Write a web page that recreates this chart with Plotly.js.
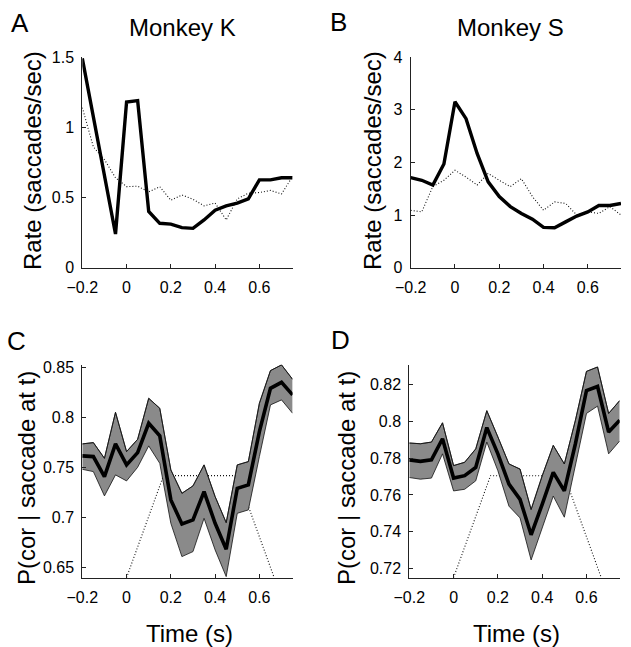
<!DOCTYPE html>
<html>
<head>
<meta charset="utf-8">
<script src="https://cdn.plot.ly/plotly-3.0.1.min.js"></script>
<style>html,body{margin:0;padding:0;background:#fff;}#chart{width:631px;height:647px;}</style>
</head>
<body>
<div id="chart"></div>
<script>
// Time bins (s)
const time = [-0.2, -0.15, -0.1, -0.05, 0, 0.05, 0.1, 0.15, 0.2, 0.25, 0.3, 0.35, 0.4, 0.45, 0.5, 0.55, 0.6, 0.65, 0.7, 0.75];

// Panel A: Monkey K saccade rate
const rateK_solid = [1.49, 1.07, 0.66, 0.24, 1.18, 1.19, 0.40, 0.316, 0.31, 0.285, 0.28, 0.34, 0.41, 0.44, 0.46, 0.49, 0.625, 0.625, 0.64, 0.64];
const rateK_dotted = [1.14, 0.86, 0.77, 0.64, 0.577, 0.58, 0.54, 0.577, 0.48, 0.518, 0.487, 0.44, 0.46, 0.34, 0.49, 0.53, 0.535, 0.55, 0.525, 0.65];

// Panel B: Monkey S saccade rate
const rateS_solid = [1.71, 1.66, 1.57, 1.97, 3.15, 2.83, 2.17, 1.63, 1.35, 1.16, 1.03, 0.92, 0.765, 0.76, 0.87, 0.98, 1.06, 1.18, 1.18, 1.22];
const rateS_dotted = [1.09, 1.06, 1.54, 1.66, 1.85, 1.72, 1.57, 1.79, 1.66, 1.54, 1.69, 1.35, 1.09, 1.25, 1.22, 1.0, 1.06, 1.03, 1.16, 1.0];

// Panel C: Monkey K P(cor | saccade at t)
const pK_mean  = [0.7617, 0.761, 0.741, 0.7737, 0.7527, 0.765, 0.7943, 0.7817, 0.7177, 0.6937, 0.6977, 0.726, 0.6943, 0.6683, 0.7293, 0.7327, 0.786, 0.8293, 0.8353, 0.8227];
const pK_upper = [0.7737, 0.775, 0.7593, 0.8053, 0.766, 0.7783, 0.8193, 0.8093, 0.7477, 0.7243, 0.7317, 0.7527, 0.721, 0.695, 0.7527, 0.756, 0.8143, 0.847, 0.8527, 0.8383];
const pK_lower = [0.7483, 0.746, 0.7217, 0.7427, 0.7367, 0.7503, 0.7717, 0.7543, 0.6943, 0.661, 0.666, 0.6993, 0.6677, 0.641, 0.7043, 0.7077, 0.761, 0.8127, 0.8177, 0.8043];

// Panel D: Monkey S P(cor | saccade at t)
const pS_mean  = [0.7791, 0.7783, 0.7791, 0.7906, 0.7692, 0.7705, 0.775, 0.7967, 0.7824, 0.7659, 0.7576, 0.7383, 0.7549, 0.7723, 0.7622, 0.7879, 0.8169, 0.8191, 0.7943, 0.8007];
const pS_upper = [0.7883, 0.7879, 0.7888, 0.7993, 0.776, 0.7778, 0.7851, 0.8059, 0.7916, 0.7769, 0.7741, 0.7521, 0.7704, 0.787, 0.7769, 0.8007, 0.8273, 0.8297, 0.8044, 0.8114];
const pS_lower = [0.7695, 0.7686, 0.7692, 0.7824, 0.7622, 0.7631, 0.7677, 0.7888, 0.7732, 0.7539, 0.7475, 0.7246, 0.742, 0.7594, 0.7479, 0.776, 0.8044, 0.8084, 0.7824, 0.7894];

// Stimulus window (trapezoid) shown dotted in C and D
const windowT = [0, 0.1667, 0.5, 0.6667];
const windowK = [0.64, 0.742, 0.742, 0.64];
const windowS = [0.715, 0.7705, 0.7705, 0.715];

// Tick values
const xTicks = [-0.2, 0, 0.2, 0.4, 0.6];
const yTicksA = [0, 0.5, 1, 1.5];
const yTicksB = [0, 1, 2, 3, 4];
const yTicksC = [0.65, 0.7, 0.75, 0.8, 0.85];
const yTicksD = [0.72, 0.74, 0.76, 0.78, 0.8, 0.82];

const FONT = 'Liberation Sans, Arial, Helvetica, sans-serif';
const W = 631, H = 647;
const px = v => v / W;
const py = v => 1 - v / H;

const thick = {color: '#000', width: 3.4};
const dotted = {color: '#111', width: 1.1, dash: '1px,2px'};
const edge = {color: '#111', width: 0.8};
const band = 'rgb(138,138,138)';

function bandTraces(xa, ya, up, lo, mean, win, winVals) {
  return [
    {x: win, y: winVals, xaxis: xa, yaxis: ya, mode: 'lines', line: dotted, hoverinfo: 'skip'},
    {x: time, y: up, xaxis: xa, yaxis: ya, mode: 'lines', line: edge, hoverinfo: 'skip'},
    {x: time, y: lo, xaxis: xa, yaxis: ya, mode: 'lines', line: edge, fill: 'tonexty', fillcolor: band, hoverinfo: 'skip'},
    {x: time, y: up, xaxis: xa, yaxis: ya, mode: 'lines', line: edge, hoverinfo: 'skip'},
    {x: time, y: mean, xaxis: xa, yaxis: ya, mode: 'lines', line: {color: '#000', width: 3.6}, hoverinfo: 'skip'}
  ];
}

const traces = [
  {x: time, y: rateK_dotted, xaxis: 'x', yaxis: 'y', mode: 'lines', line: dotted},
  {x: time, y: rateK_solid, xaxis: 'x', yaxis: 'y', mode: 'lines', line: thick},
  {x: time, y: rateS_dotted, xaxis: 'x2', yaxis: 'y2', mode: 'lines', line: dotted},
  {x: time, y: rateS_solid, xaxis: 'x2', yaxis: 'y2', mode: 'lines', line: thick},
  ...bandTraces('x3', 'y3', pK_upper, pK_lower, pK_mean, windowT, windowK),
  ...bandTraces('x4', 'y4', pS_upper, pS_lower, pS_mean, windowT, windowS)
];

function xax(domain, anchor) {
  return {domain: domain, anchor: anchor, range: [-0.2, 0.75], tickvals: xTicks,
    showline: true, linecolor: '#222', linewidth: 1, ticks: 'inside', ticklen: 4, tickcolor: '#222',
    showgrid: false, zeroline: false, tickfont: {family: FONT, size: 16, color: '#000'}, fixedrange: true,
    ticklabelstandoff: 5};
}
function yax(domain, anchor, range, ticks) {
  return {domain: domain, anchor: anchor, range: range, tickvals: ticks,
    showline: true, linecolor: '#222', linewidth: 1, ticks: 'inside', ticklen: 4, tickcolor: '#222',
    showgrid: false, zeroline: false, tickfont: {family: FONT, size: 16, color: '#000'}, fixedrange: true,
    ticklabelstandoff: 4};
}

const domTop = [py(267.7), py(57.0)];
const domBot = [py(577.6), py(364.6)];

function ann(text, x, y, size, angle) {
  return {text: text, x: px(x), y: py(y), xref: 'paper', yref: 'paper', showarrow: false,
    xanchor: 'center', yanchor: 'middle', textangle: angle || 0,
    font: {family: FONT, size: size, color: '#000'}};
}

const layout = {
  width: W, height: H, margin: {l: 0, r: 0, t: 0, b: 0},
  paper_bgcolor: '#fff', plot_bgcolor: '#fff', showlegend: false,
  xaxis: xax([px(82.3), px(292.6)], 'y'),
  yaxis: yax(domTop, 'x', [0, 1.5], yTicksA),
  xaxis2: xax([px(410.7), px(621)], 'y2'),
  yaxis2: yax(domTop, 'x2', [0, 4], yTicksB),
  xaxis3: xax([px(82.3), px(292.6)], 'y3'),
  yaxis3: yax(domBot, 'x3', [0.64, 0.853], yTicksC),
  xaxis4: xax([px(409.3), px(619.7)], 'y4'),
  yaxis4: yax(domBot, 'x4', [0.715, 0.831], yTicksD),
  annotations: [
    ann('A', 20, 23, 26),
    ann('Monkey K', 183, 27, 24),
    ann('B', 338, 22, 26),
    ann('Monkey S', 510, 27, 24),
    ann('C', 16, 341, 26),
    ann('D', 340, 340, 26),
    ann('Rate (saccades/sec)', 33, 161, 24, -90),
    ann('Rate (saccades/sec)', 373, 161, 24, -90),
    ann('P(cor | saccade at t)', 26, 478, 24, -90),
    ann('P(cor | saccade at t)', 346, 478, 24, -90),
    ann('Time (s)', 189, 633, 24),
    ann('Time (s)', 516, 633, 24)
  ]
};

Plotly.newPlot('chart', traces, layout, {displayModeBar: false, staticPlot: true});
</script>
</body>
</html>
